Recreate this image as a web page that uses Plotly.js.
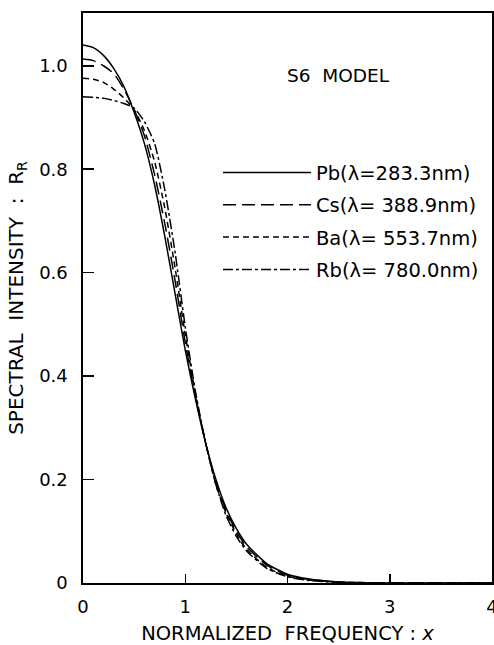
<!DOCTYPE html>
<html>
<head>
<meta charset="utf-8">
<script src="https://cdn.plot.ly/plotly-3.0.1.min.js"></script>
<style>
html,body{margin:0;padding:0;background:#fff;}
#chart{width:494px;height:645px;}
</style>
</head>
<body>
<div id="chart"></div>
<script>
// Normalized frequency x
const xValues = [0, 0.1, 0.2, 0.3, 0.4, 0.5, 0.6, 0.7, 0.8, 0.9, 1.0, 1.1, 1.2, 1.3, 1.4, 1.5, 1.6, 1.8, 2.0, 2.2, 2.5, 3.0, 3.5, 4.0];
// Spectral intensity R_R for each atom
const pbValues = [1.040, 1.035, 1.020, 0.995, 0.960, 0.910, 0.850, 0.770, 0.670, 0.560, 0.450, 0.355, 0.270, 0.200, 0.145, 0.105, 0.075, 0.037, 0.017, 0.008, 0.002, 0.000, 0.000, 0.000];
const csValues = [1.013, 1.010, 1.000, 0.985, 0.955, 0.915, 0.865, 0.790, 0.695, 0.585, 0.465, 0.360, 0.270, 0.195, 0.140, 0.100, 0.070, 0.034, 0.015, 0.007, 0.002, 0.000, 0.000, 0.000];
const baValues = [0.976, 0.974, 0.968, 0.955, 0.938, 0.915, 0.875, 0.815, 0.725, 0.610, 0.480, 0.365, 0.270, 0.190, 0.135, 0.095, 0.065, 0.030, 0.013, 0.006, 0.002, 0.000, 0.000, 0.000];
const rbValues = [0.940, 0.939, 0.937, 0.933, 0.927, 0.918, 0.892, 0.850, 0.760, 0.640, 0.495, 0.370, 0.270, 0.190, 0.130, 0.090, 0.062, 0.028, 0.012, 0.005, 0.001, 0.000, 0.000, 0.000];
const seriesNames = ["Pb(λ=283.3nm)", "Cs(λ= 388.9nm)", "Ba(λ= 553.7nm)", "Rb(λ= 780.0nm)"];
const xTickVals = [0, 1, 2, 3, 4];
const yTickVals = [0, 0.2, 0.4, 0.6, 0.8, 1.0];
const yTickText = ["0", "0.2", "0.4", "0.6", "0.8", "1.0"];

const FONT = "DejaVu Sans, Arial, sans-serif";
const dashes = ["solid", "13px,6px", "6px,4px", "10px,3px,3px,3px"];
const ys = [pbValues, csValues, baValues, rbValues];

const traces = ys.map((y, i) => ({
  x: xValues, y: y, type: "scatter", mode: "lines",
  name: seriesNames[i], legendgroup: "g" + i,
  line: {color: "#000", width: 1.5, dash: dashes[i], shape: "spline", smoothing: 0.6}
}));

const layout = {
  width: 494, height: 645,
  margin: {l: 83, r: 2, t: 13, b: 62},
  paper_bgcolor: "#fff", plot_bgcolor: "#fff",
  font: {family: FONT, color: "#000", size: 17},
  showlegend: true,
  legend: {
    x: 0.33, y: 0.754, xanchor: "left", yanchor: "top",
    bgcolor: "rgba(0,0,0,0)", borderwidth: 0,
    font: {family: FONT, size: 19.5, color: "#000"},
    itemwidth: 88, tracegroupgap: 4, traceorder: "grouped"
  },
  xaxis: {
    range: [0, 4], tickvals: xTickVals, ticks: "inside", ticklen: 9, tickwidth: 1.5,
    tickcolor: "#000", showline: true, linecolor: "#000", linewidth: 1.6, mirror: true,
    showgrid: false, zeroline: false, tickfont: {size: 18}, ticklabelstandoff: 7,
    ticklabeloverflow: "allow",
    title: {text: "NORMALIZED  FREQUENCY : <i>x</i>", font: {size: 19.5}, standoff: 11}
  },
  yaxis: {
    range: [0, 1.102], tickvals: yTickVals, ticktext: yTickText, ticks: "inside", ticklen: 11, tickwidth: 1.5,
    tickcolor: "#000", showline: true, linecolor: "#000", linewidth: 1.6, mirror: true,
    showgrid: false, zeroline: false, tickfont: {size: 18}, ticklabelstandoff: 10,
    title: {text: "SPECTRAL  INTENSITY  :  R<sub>R</sub>", font: {size: 20}, standoff: 10}
  },
  annotations: [{
    xref: "paper", yref: "paper", x: 0.625, y: 0.891, xanchor: "center", yanchor: "middle",
    text: "S6  MODEL", showarrow: false, font: {family: FONT, size: 18.5, color: "#000"}
  }]
};

Plotly.newPlot("chart", traces, layout, {staticPlot: true, displayModeBar: false});
</script>
</body>
</html>
